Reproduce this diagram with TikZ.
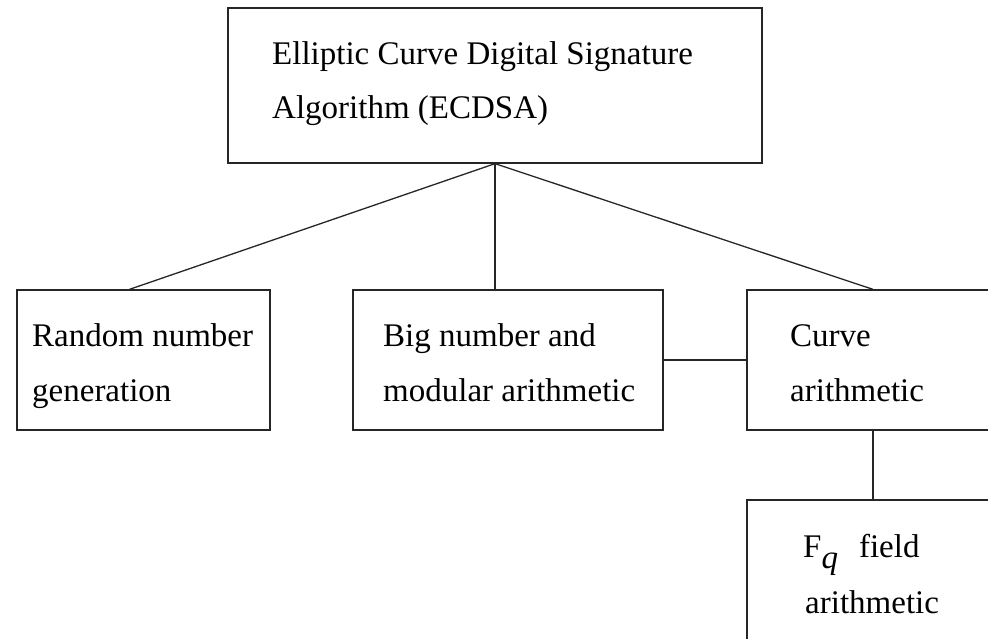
\documentclass[tikz,border=0pt]{standalone}
\usepackage{fontspec}
\setmainfont{Liberation Serif}
\usetikzlibrary{calc}
\begin{document}
\begin{tikzpicture}[x=1pt,y=-1pt,
  box/.style={draw=black!85,line width=1.3pt,inner sep=0pt,minimum width=#1},
  lbl/.style={anchor=base west,inner sep=0pt,font=\fontsize{33}{33}\selectfont},
  conn/.style={draw=black!85,line width=1.3pt}]
\clip (0,0) rectangle (988,639);
\fill[white] (0,0) rectangle (988,639);
% boxes
\node[box=534pt,minimum height=155pt] (ecdsa) at (495,85.5) {};
\node[box=253pt,minimum height=140pt] (rng) at (143.5,360) {};
\node[box=310pt,minimum height=140pt] (big) at (508,360) {};
\node[box=252pt,minimum height=140pt] (curve) at (873,360) {};
\node[box=252pt,minimum height=200pt] (fq) at (873,600) {};
% texts
\node[lbl] (t1) at (272,65) {Elliptic Curve Digital Signature};
\node[lbl] (t2) at (272,119) {Algorithm (ECDSA)};
\node[lbl] (t3) at (32,346) {Random number};
\node[lbl] (t4) at (32,401) {generation};
\node[lbl] (t5) at (383,346) {Big number and};
\node[lbl] (t6) at (383,401) {modular arithmetic};
\node[lbl] (t7) at (790,346) {Curve};
\node[lbl] (t8) at (790,401) {arithmetic};
\node[lbl] (t9) at (803,557) {F\raisebox{-11pt}{\textit{q}}\hspace{21pt}field};
\node[lbl] (t10) at (805,613) {arithmetic};
% connectors
\draw[conn] (ecdsa.south) -- ($(rng.north west)!0.445!(rng.north east)$);
\draw[conn] (ecdsa.south) -- (ecdsa.south |- big.north);
\draw[conn] (ecdsa.south) -- (curve.north);
\draw[conn] (big.east) -- (curve.west);
\draw[conn] (curve.south) -- (fq.north);
\end{tikzpicture}
\end{document}
